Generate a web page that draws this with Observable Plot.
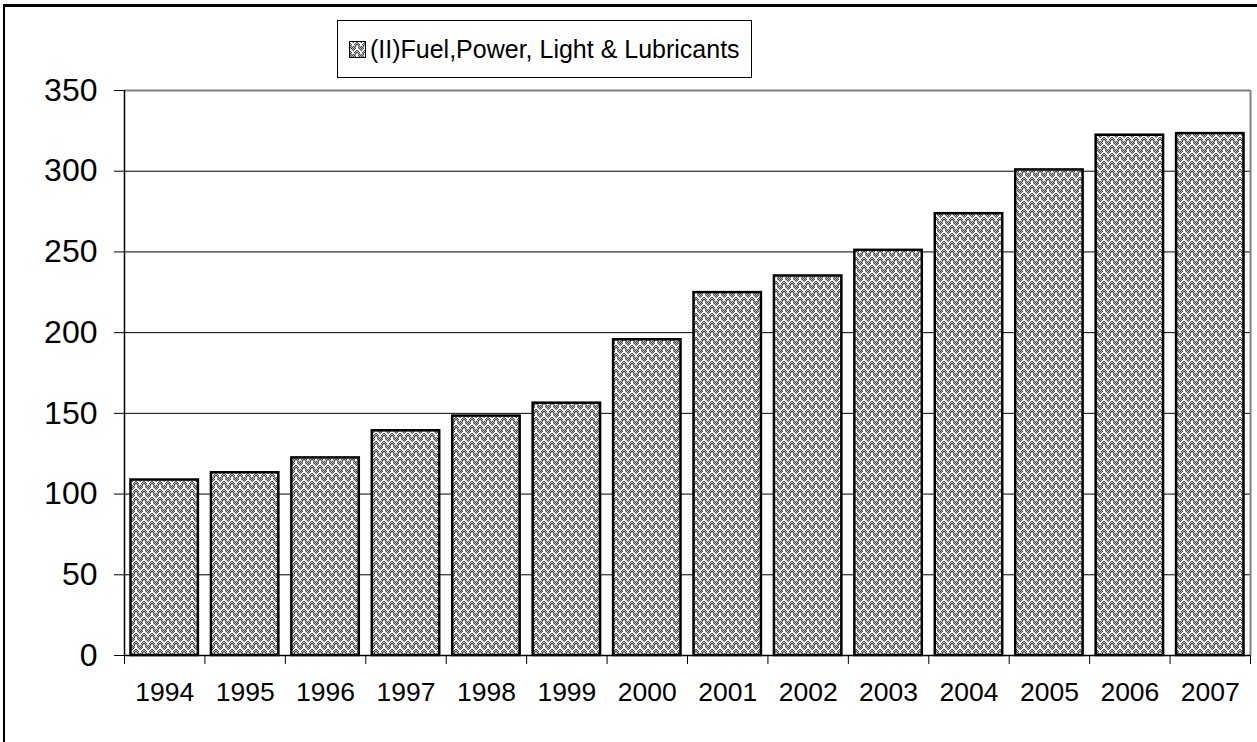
<!DOCTYPE html>
<html><head><meta charset="utf-8">
<script src="https://cdn.jsdelivr.net/npm/d3@7"></script>
<script src="https://cdn.jsdelivr.net/npm/@observablehq/plot@0.6"></script>
<style>
html,body{margin:0;padding:0;background:#fff;}
#wrap{position:relative;width:1257px;height:742px;overflow:hidden;font-family:"Liberation Sans",Arial,sans-serif;}
#chart{position:absolute;left:0;top:0;}
#frame{position:absolute;left:3px;top:4px;width:1300px;height:800px;border-left:2px solid #000;border-top:3px solid #000;pointer-events:none;}
#legend{position:absolute;left:337px;top:20px;width:415px;height:58px;border:1.5px solid #000;background:#fff;box-sizing:border-box;display:flex;align-items:center;font-size:25px;color:#000;}
#legend svg{margin-left:11px;margin-right:4px;}
</style></head><body>
<div id="wrap"><div id="chart"></div><div id="frame"></div><div id="legend"></div></div>
<script>
const years = ["1994","1995","1996","1997","1998","1999","2000","2001","2002","2003","2004","2005","2006","2007"];
const values = [108.7, 113.2, 122.4, 139.2, 148.3, 156.3, 195.6, 224.8, 235.1, 251.0, 273.7, 300.8, 322.3, 323.3];
const yTicks = [0, 50, 100, 150, 200, 250, 300, 350];
const gridValues = [50, 100, 150, 200, 250, 300];
const seriesName = "(II)Fuel,Power, Light & Lubricants";

const data = years.map((y, i) => ({year: y, i, value: values[i]}));

// 8x8 weave bitmap: W = white, D = dark, . = mid grey
const weaveBitmap = [
  "WW.D.DWW",
  "DWW.DWWD",
  ".DWWWWD.",
  "D.DWWD.D",
  ".D.WW.D.",
  "W.D.D.DW",
  "WD.D.D.W",
  "W.D.D.DW"
];

function patternDefs(id) {
  let cells = "";
  weaveBitmap.forEach((row, y) => {
    [...row].forEach((c, x) => {
      const col = c === "W" ? "#ffffff" : c === "D" ? "#4a4a4a" : "#b8b8b8";
      cells += `<rect x="${x}" y="${y}" width="1" height="1" fill="${col}"/>`;
    });
  });
  return `<defs><pattern id="${id}" width="8" height="8" patternUnits="userSpaceOnUse" shape-rendering="crispEdges">${cells}</pattern></defs>`;
}

const plot = Plot.plot({
  width: 1257,
  height: 742,
  marginLeft: 124,
  marginRight: 7,
  marginTop: 90,
  marginBottom: 87,
  style: {background: "transparent", fontFamily: "'Liberation Sans', Arial, sans-serif", color: "#000"},
  x: {type: "linear", domain: [0, years.length], axis: null, label: null},
  y: {domain: [0, 350], axis: null, label: null},
  marks: [
    () => { const g = document.createElementNS("http://www.w3.org/2000/svg", "g"); g.innerHTML = patternDefs("weave"); return g; },
    Plot.ruleY(gridValues, {stroke: "#000", strokeWidth: 1}),
    Plot.ruleY([350], {stroke: "#808080", strokeWidth: 2}),
    Plot.ruleX([years.length], {y1: 0, y2: 350, stroke: "#808080", strokeWidth: 2}),
    Plot.rectY(data, {x1: "i", x2: d => d.i + 1, y: "value", insetLeft: 6.5, insetRight: 6.5, fill: "url(#weave)", stroke: "#000", strokeWidth: 2.5}),
    Plot.ruleY([0], {stroke: "#000", strokeWidth: 1.5}),
    Plot.ruleX([0], {y1: 0, y2: 350, stroke: "#000", strokeWidth: 1.5}),
    Plot.axisY({ticks: yTicks, label: null, tickSize: 10, tickPadding: 17, fontSize: 32, stroke: "#000", fill: "#000"}),
    Plot.axisX({ticks: d3.range(0, years.length + 1), label: null, tickSize: 9, tickFormat: () => "", stroke: "#000"}),
    Plot.axisX({ticks: d3.range(years.length).map(i => i + 0.5), label: null, tickSize: 0, tickPadding: 27, fontSize: 26.5, fill: "#000", tickFormat: d => years[Math.floor(d)]})
  ]
});
document.getElementById("chart").appendChild(plot);

const legend = document.getElementById("legend");
legend.innerHTML = `<svg width="17" height="17">${patternDefs("weave2")}<rect x="0.5" y="0.5" width="16" height="16" fill="url(#weave2)" stroke="#000"/></svg><span>${seriesName}</span>`;
</script>
</body></html>
